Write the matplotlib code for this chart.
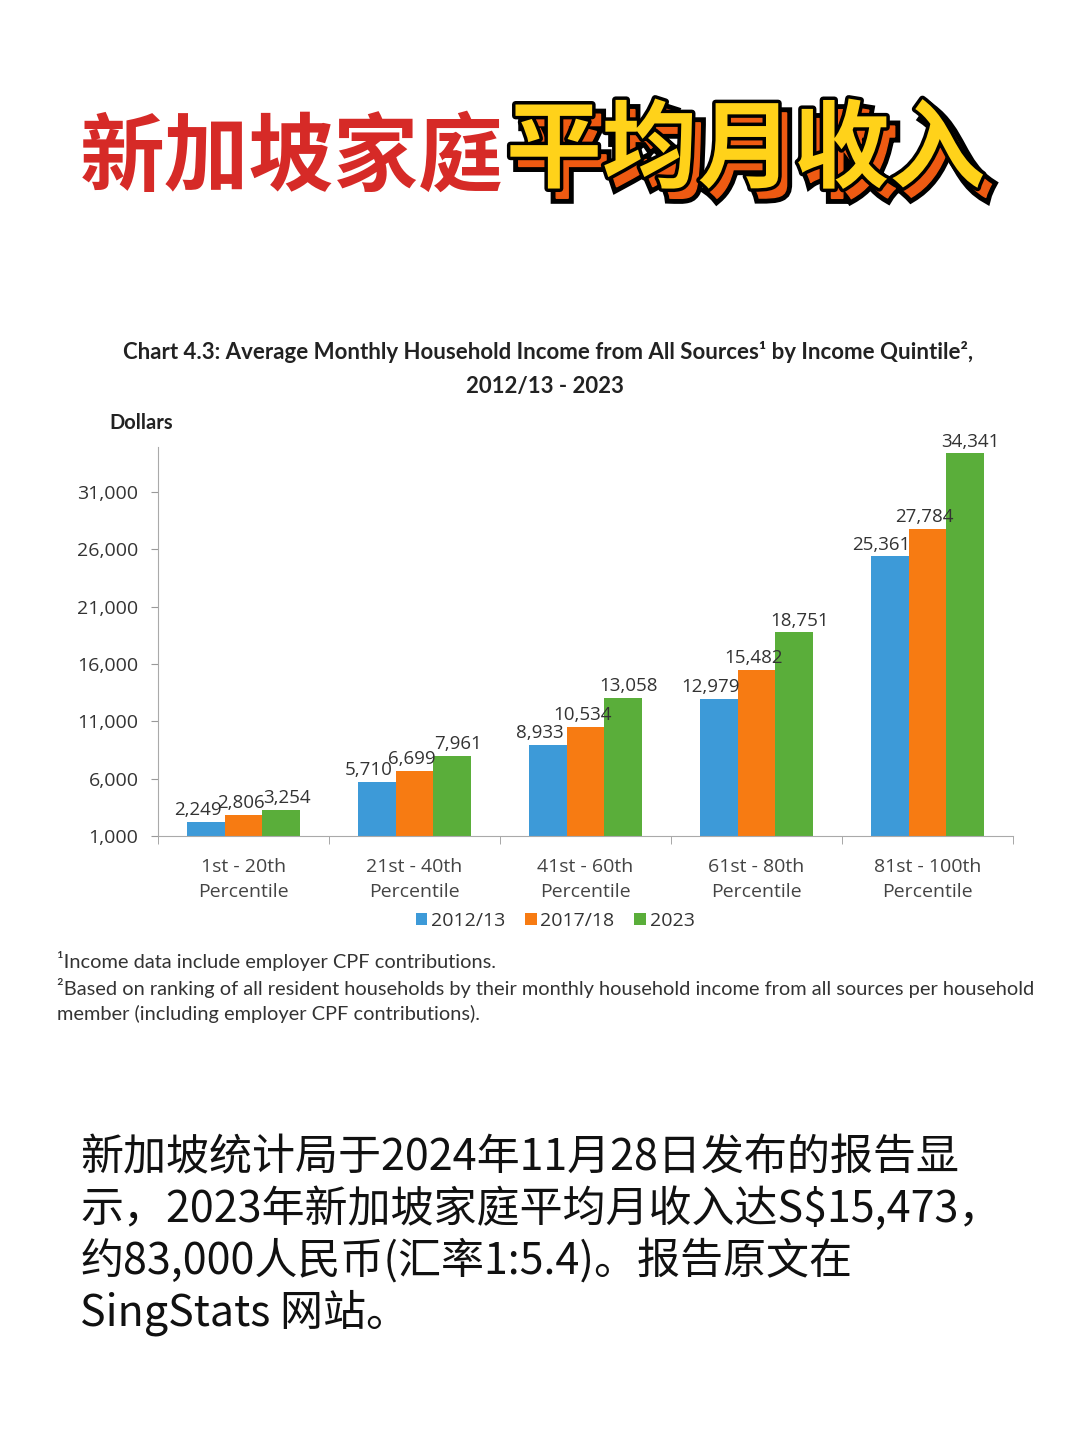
import numpy as np
import matplotlib
matplotlib.use("Agg")
import matplotlib.pyplot as plt
import matplotlib.patheffects as pe

# data
groups = ["1st - 20th\nPercentile", "21st - 40th\nPercentile", "41st - 60th\nPercentile",
          "61st - 80th\nPercentile", "81st - 100th\nPercentile"]
years = ["2012/13", "2017/18", "2023"]
inc_2012 = [2249, 5710, 8933, 12979, 25361]
inc_2017 = [2806, 6699, 10534, 15482, 27784]
inc_2023 = [3254, 7961, 13058, 18751, 34341]
yticks = [1000, 6000, 11000, 16000, 21000, 26000, 31000]

colors = ["#3d9ad8", "#f77b12", "#5aae3a"]
cjk = ["Noto Sans CJK SC", "DejaVu Sans"]
narrow = ["Lato", "DejaVu Sans"]
plt.rcParams["font.family"] = ["Open Sans", "DejaVu Sans"]

fig = plt.figure(figsize=(10.8, 14.43), dpi=100)
fig.patch.set_facecolor("white")

# big headline
fig.text(80 / 1080, 1 - 158 / 1443, "新加坡家庭", family=cjk, fontsize=61,
         fontweight="bold", color="#d62a27", ha="left", va="center")
yellow = fig.text(506 / 1080, 1 - 152 / 1443, "平均月收入", family=cjk, fontsize=69,
                  fontweight="black", color="#ffd21a", ha="left", va="center")
yellow.set_path_effects([
    pe.PathPatchEffect(offset=(6, -7), facecolor="black", edgecolor="black", linewidth=8),
    pe.PathPatchEffect(offset=(6, -7), facecolor="#ee5a12", edgecolor="#ee5a12", linewidth=1),
    pe.Stroke(linewidth=5, foreground="black"),
    pe.Normal(),
])

# chart title
fig.text(548 / 1080, 1 - 352 / 1443,
         "Chart 4.3: Average Monthly Household Income from All Sources¹ by Income Quintile²,",
         family=narrow, fontsize=16, fontweight="bold", color="#222222", ha="center", va="center")
fig.text(545 / 1080, 1 - 386 / 1443, "2012/13 - 2023", family=narrow, fontsize=16,
         fontweight="bold", color="#222222", ha="center", va="center")
fig.text(109 / 1080, 1 - 423 / 1443, "Dollars", family=narrow, fontsize=14.5,
         fontweight="bold", color="#222222", ha="left", va="center")

ax = fig.add_axes([158 / 1080, 1 - 836 / 1443, (1013 - 158) / 1080, (836 - 447) / 1443])
x = np.arange(len(groups))
w = 0.22
series = [inc_2012, inc_2017, inc_2023]
label_shift = [-6, -2, 4]  # points, labels in the original sit slightly off-centre
for i, vals in enumerate(series):
    pos = x + (i - 1) * w
    ax.bar(pos, np.array(vals) - 1000, bottom=1000, width=w, color=colors[i], label=years[i])
    for px, v in zip(pos, vals):
        ax.annotate(f"{v:,}", (px, v), xytext=(label_shift[i], 2), textcoords="offset points",
                    ha="center", va="bottom", fontsize=13.5, color="#333333")

ax.set_xlim(-0.5, 4.5)
ax.set_ylim(1000, 34900)
ax.set_yticks(yticks)
ax.set_yticklabels([f"{t:,}" for t in yticks], fontsize=14, color="#333333")
ax.set_xticks(x)
ax.set_xticklabels(groups, fontsize=14, color="#444444", linespacing=1.45)
ax.set_xticks(np.arange(-0.5, 5, 1), minor=True)
ax.tick_params(axis="x", which="major", length=0, pad=16)
ax.tick_params(axis="x", which="minor", length=6, color="#999999")
ax.tick_params(axis="y", length=5, color="#999999", pad=9)
for s in ["top", "right"]:
    ax.spines[s].set_visible(False)
for s in ["left", "bottom"]:
    ax.spines[s].set_color("#aaaaaa")

ax.legend(loc="center", bbox_to_anchor=(555 / 1080, 1 - 921 / 1443), bbox_transform=fig.transFigure,
          ncol=3, frameon=False, fontsize=14, handlelength=0.6, handleheight=0.6,
          handletextpad=0.2, columnspacing=1.0, labelcolor="#333333")

# footnotes
notes = ["¹Income data include employer CPF contributions.",
         "²Based on ranking of all resident households by their monthly household income from all sources per household",
         "member (including employer CPF contributions)."]
for k, t in enumerate(notes):
    fig.text(57 / 1080, 1 - (961 + 26.5 * k) / 1443, t, family=narrow, fontsize=14.4,
             color="#333333", ha="left", va="center")

# paragraph
para = ["新加坡统计局于2024年11月28日发布的报告显",
        "示，2023年新加坡家庭平均月收入达S$15,473，",
        "约83,000人民币(汇率1:5.4)。报告原文在",
        "SingStats 网站。"]
for k, t in enumerate(para):
    fig.text(80 / 1080, 1 - (1158 + 51.5 * k) / 1443, t, family=cjk, fontsize=31,
             color="#111111", ha="left", va="center")

fig.savefig("out.png", dpi=100)
